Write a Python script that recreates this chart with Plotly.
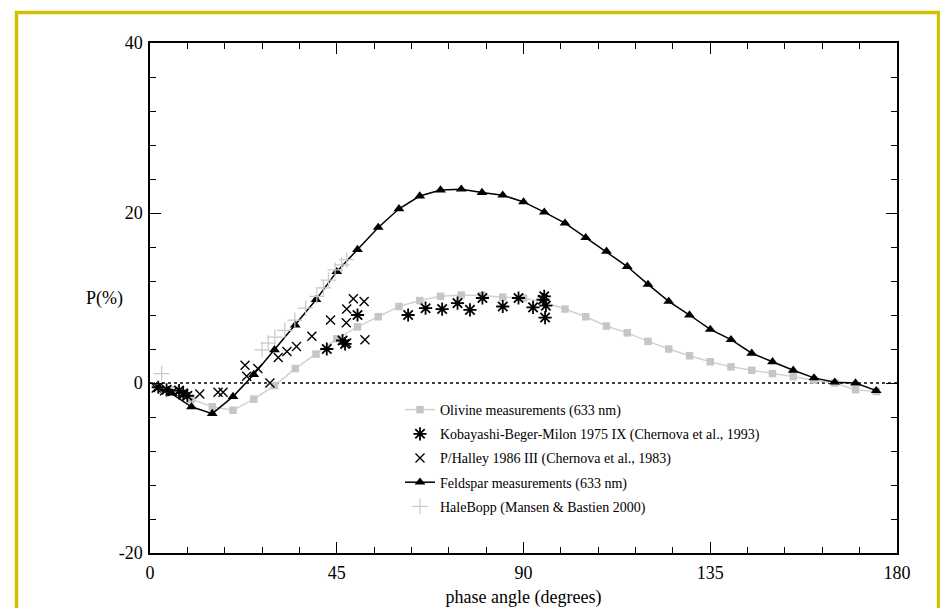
import plotly.graph_objects as go

# ---- data ----
feldspar_x = [5, 10, 15, 20, 25, 30, 35, 40, 45, 50, 55, 60, 65, 70, 75, 80, 85, 90, 95, 100,
              105, 110, 115, 120, 125, 130, 135, 140, 145, 150, 155, 160, 165, 170, 175]
feldspar_y = [-1.2, -2.8, -3.6, -1.6, 1.0, 3.9, 6.8, 9.8, 13.1, 15.7, 18.3, 20.5, 22.0, 22.7, 22.8,
              22.4, 22.1, 21.3, 20.1, 18.8, 17.1, 15.5, 13.7, 11.6, 9.6, 8.0, 6.3, 5.1, 3.5, 2.5,
              1.5, 0.6, 0.1, 0.0, -0.9]

olivine_x = [5, 10, 15, 20, 25, 30, 35, 40, 45, 50, 55, 60, 65, 70, 75, 80, 85, 90, 95, 100,
             105, 110, 115, 120, 125, 130, 135, 140, 145, 150, 155, 160, 165, 170, 175]
olivine_y = [-0.8, -1.9, -2.8, -3.2, -1.9, -0.3, 1.7, 3.4, 5.2, 6.6, 7.8, 9.0, 9.7, 10.2, 10.35,
             10.3, 10.1, 10.0, 9.5, 8.7, 7.8, 6.7, 5.9, 4.9, 4.0, 3.2, 2.5, 1.9, 1.5, 1.1,
             0.75, 0.35, 0.0, -0.8, -1.0]

kobayashi_x = [2, 4, 7, 8, 9, 42.6, 46.4, 47, 50, 62.2, 66.4, 70.4, 74.1, 77.1, 80.1, 85,
               88.8, 92.3, 94.7, 95.4, 95.2, 95.0]
kobayashi_y = [-0.5, -0.8, -0.9, -1.2, -1.5, 4.0, 5.0, 4.6, 8.0, 8.0, 8.8, 8.7, 9.4, 8.6, 10.0, 9.0,
               10.0, 8.9, 9.8, 9.1, 7.7, 10.2]

halley_x = [1.5, 3.5, 5.5, 8, 12, 16.4, 17.6, 22.9, 23.3, 26, 28.9, 30.9, 33, 35.3, 39, 43.5,
            47.3, 47.4, 49, 51.6, 51.8, 47.4]
halley_y = [-0.6, -0.9, -1.0, -1.4, -1.3, -1.1, -1.1, 2.1, 0.8, 1.7, 0.0, 3.0, 3.7, 4.3, 5.5, 7.4,
            7.1, 8.7, 9.9, 9.6, 5.1, 4.7]

halebopp_x = [2.8, 27, 28.5, 30.1, 32.5, 34.9, 37.5, 40.2, 41.8, 43, 44.6, 46.2, 47.4]
halebopp_y = [1.1, 3.9, 4.7, 5.4, 6.2, 7.4, 8.8, 10.2, 11.2, 12.1, 13.3, 13.9, 14.5]

x_ticks = [0, 45, 90, 135, 180]
x_ticklabels = ["0", "45", "90", "135", "180"]
y_ticks = [-20, 0, 20, 40]
y_ticklabels = ["-20", "0", "20", "40"]

SERIF = "Liberation Serif, Times New Roman, serif"

fig = go.Figure()

fig.add_trace(go.Scatter(
    x=olivine_x, y=olivine_y, mode="lines+markers", name="Olivine measurements (633 nm)",
    line=dict(color="#d2d2d2", width=1.5),
    marker=dict(symbol="square", size=7.5, color="#c6c6c6"),
    legendgroup="a"))
fig.add_trace(go.Scatter(
    x=kobayashi_x, y=kobayashi_y, mode="markers",
    name="Kobayashi-Beger-Milon 1975 IX (Chernova et al., 1993)",
    marker=dict(symbol="asterisk-open", size=11, color="black", line=dict(color="black", width=1.8)),
    legendgroup="b"))
fig.add_trace(go.Scatter(
    x=halley_x, y=halley_y, mode="markers", name="P/Halley 1986 III (Chernova et al., 1983)",
    marker=dict(symbol="x-thin-open", size=9, color="black", line=dict(color="black", width=1.4)),
    legendgroup="c"))
fig.add_trace(go.Scatter(
    x=feldspar_x, y=feldspar_y, mode="lines+markers", name="Feldspar measurements (633 nm)",
    line=dict(color="black", width=1.5),
    marker=dict(symbol="triangle-up", size=9.5, color="black"),
    legendgroup="d"))
fig.add_trace(go.Scatter(
    x=halebopp_x, y=halebopp_y, mode="markers", name="HaleBopp (Mansen & Bastien 2000)",
    marker=dict(symbol="cross-thin-open", size=11, color="#c8c8c8", line=dict(color="#c8c8c8", width=1.2)),
    legendgroup="e"))

# the page body margin is removed below, so the figure sits at (0, 0)
W, H = 940, 608
L, T = 150, 43
R = W - L - 747
B = H - T - 510
pw, ph = W - L - R, H - T - B

def px_to_paper_x(px):  # px in page coordinates
    return (px - L) / pw

def px_to_paper_y(py):
    return (H - B - py) / ph

shapes = [
    # dotted zero line
    dict(type="line", xref="paper", x0=0, x1=1, yref="y", y0=0, y1=0,
         line=dict(color="black", width=1.5, dash="dot"), layer="below"),
    # yellow frame around the picture
    dict(type="rect", xref="paper", yref="paper",
         x0=px_to_paper_x(16.5), x1=px_to_paper_x(938.5),
         y0=px_to_paper_y(660), y1=px_to_paper_y(12.5),
         line=dict(color="#d2c100", width=3.5), layer="below"),
]

axis_common = dict(
    showline=True, linecolor="black", linewidth=1.5, mirror="allticks",
    ticks="inside", ticklen=11, tickwidth=1.3, tickcolor="black",
    showgrid=False, zeroline=False, automargin=False,
    tickfont=dict(family=SERIF, size=18, color="black"),
)

fig.update_layout(
    width=W, height=H,
    margin=dict(l=L, r=R, t=T, b=B, autoexpand=False),
    paper_bgcolor="white", plot_bgcolor="white",
    shapes=shapes,
    xaxis=dict(range=[0, 180], tickvals=x_ticks, ticktext=x_ticklabels, ticklabelstandoff=3,
               **axis_common,
               minor=dict(dtick=9, ticks="inside", ticklen=6, tickwidth=1.2, tickcolor="black"),
               title=dict(text="phase angle (degrees)", font=dict(family=SERIF, size=18, color="black"),
                          standoff=8)),
    yaxis=dict(range=[-20, 40], tickvals=y_ticks, ticktext=y_ticklabels, ticklabelstandoff=2,
               **axis_common,
               minor=dict(dtick=4, ticks="inside", ticklen=6, tickwidth=1.2, tickcolor="black")),
    legend=dict(x=px_to_paper_x(400), y=px_to_paper_y(394), xanchor="left", yanchor="top",
                font=dict(family=SERIF, size=14, color="black"),
                bgcolor="rgba(0,0,0,0)", tracegroupgap=3, traceorder="grouped"),
    annotations=[dict(text="P(%)", xref="paper", yref="paper",
                      x=px_to_paper_x(104), y=px_to_paper_y(298), xanchor="center", yanchor="middle",
                      showarrow=False, font=dict(family=SERIF, size=18, color="black"))],
)

fig.write_html("out.html",
               config={"displayModeBar": False},
               post_script="document.body.style.margin='0';document.body.style.overflow='hidden';")
